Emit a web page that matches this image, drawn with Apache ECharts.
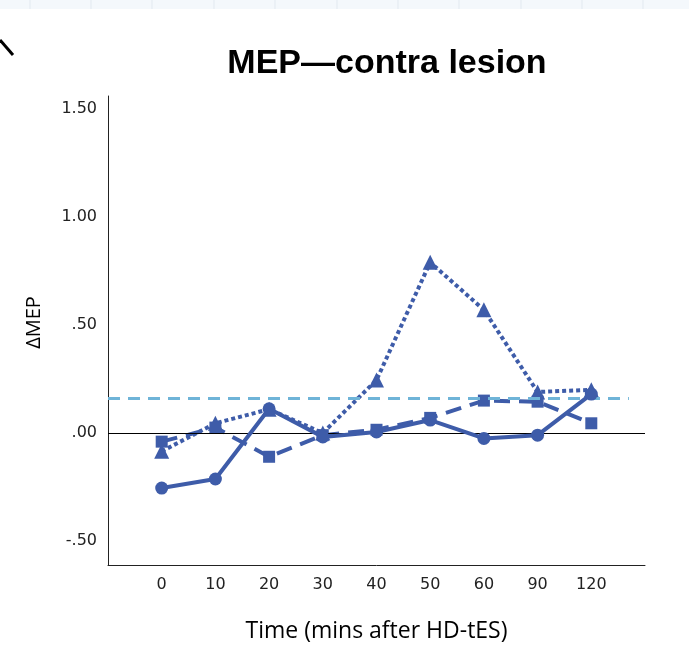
<!DOCTYPE html>
<html lang="en">
  <head>
    <meta charset="UTF-8" />
    <title>MEP—contra lesion</title>
    <script src="https://cdn.jsdelivr.net/npm/echarts@6/dist/echarts.min.js"></script>
  </head>
  <body style="margin:0;background:#fff">
    <div id="container" style="width: 689px;height: 668px"></div>
    <script>
      // time points (x categories)
      var times = ['0', '10', '20', '30', '40', '50', '60', '90', '120']
      // series values
      var solidCircle = [-0.255, -0.213, 0.112, -0.018, 0.005, 0.06, -0.025, -0.01, 0.18]
      var dashedSquare = [-0.04, 0.025, -0.11, -0.01, 0.015, 0.07, 0.15, 0.145, 0.045]
      var dottedTriangle = [-0.085, 0.045, 0.11, 0.0, 0.245, 0.79, 0.57, 0.19, 0.2]
      var yTicks = [-0.5, 0, 0.5, 1, 1.5]
      var refValue = 0.16

      var blue = '#3e5ca9'
      var toPairs = function (arr) {
        return arr.map(function (v, i) { return [i, v] })
      }
      var yFmt = function (v) {
        var s = Math.abs(v).toFixed(2)
        if (s.charAt(0) === '0') s = s.slice(1)
        return (v < 0 ? '-' : '') + s
      }

      // faint strip at the top of the screenshot
      var stripLines = [30, 91, 152, 214, 275, 337, 398, 459, 521, 582, 643].map(function (x) {
        return { type: 'line', shape: { x1: x, y1: 0, x2: x, y2: 9 }, style: { stroke: '#e2e9f0', lineWidth: 1 } }
      })

      var myChart = echarts.init(document.querySelector('#container'))
      myChart.setOption({
        backgroundColor: '#ffffff',
        animation: false,
        title: {
          text: 'MEP—contra lesion',
          left: 382,
          top: 42,
          textAlign: 'center',
          textStyle: { fontFamily: 'Liberation Sans', fontWeight: 'bold', fontSize: 34, color: '#000' }
        },
        grid: { left: 108, right: 44, top: 96, bottom: 103 },
        xAxis: {
          type: 'value',
          min: -1,
          max: 9,
          name: 'Time (mins after HD-tES)',
          nameLocation: 'middle',
          nameGap: 55,
          nameTextStyle: { fontFamily: 'Open Sans', fontSize: 23, color: '#000' },
          axisLine: { onZero: false, lineStyle: { color: '#222', width: 1 } },
          axisTick: { show: false },
          splitLine: { show: false },
          axisLabel: {
            customValues: [0, 1, 2, 3, 4, 5, 6, 7, 8],
            formatter: function (v) { return times[v] },
            margin: 12,
            fontFamily: 'DejaVu Sans',
            fontSize: 16,
            color: '#222'
          }
        },
        yAxis: {
          type: 'value',
          min: -0.611,
          max: 1.56,
          name: 'ΔMEP',
          nameLocation: 'middle',
          nameGap: 64,
          nameRotate: 90,
          nameTextStyle: { fontFamily: 'Open Sans', fontSize: 20, color: '#000', padding: [0, 0, 0, 16] },
          axisLine: { show: true, onZero: false, lineStyle: { color: '#222', width: 1 } },
          axisTick: { show: false },
          splitLine: { show: false },
          axisLabel: {
            customValues: yTicks,
            formatter: yFmt,
            margin: 11,
            fontFamily: 'DejaVu Sans',
            fontSize: 16,
            color: '#222'
          }
        },
        series: [
          {
            type: 'line',
            data: toPairs(dottedTriangle),
            symbol: 'triangle',
            symbolSize: 15,
            itemStyle: { color: blue },
            lineStyle: { color: blue, width: 4, type: [4, 3] },
            z: 3,
            markLine: {
              silent: true,
              symbol: 'none',
              label: { show: false },
              data: [
                [{ coord: [-1, 0], lineStyle: { color: '#000', width: 1, type: 'solid' } }, { coord: [9, 0] }],
                [{ coord: [-1, refValue], lineStyle: { color: '#6fb4d8', width: 3, type: [12, 8] } }, { coord: [8.7, refValue] }]
              ]
            }
          },
          {
            type: 'line',
            data: toPairs(dashedSquare),
            symbol: 'rect',
            symbolSize: 12,
            itemStyle: { color: blue },
            lineStyle: { color: blue, width: 4, type: [16, 9] },
            z: 4
          },
          {
            type: 'line',
            data: toPairs(solidCircle),
            symbol: 'circle',
            symbolSize: 13,
            itemStyle: { color: blue },
            lineStyle: { color: blue, width: 4 },
            z: 5
          }
        ],
        graphic: [
          { type: 'rect', shape: { x: 0, y: 0, width: 689, height: 9 }, style: { fill: '#f4f8fc' } }
        ].concat(stripLines).concat([
          { type: 'line', shape: { x1: 0, y1: 40, x2: 13, y2: 55 }, style: { stroke: '#000', lineWidth: 3 } }
        ])
      })
    </script>
  </body>
</html>
